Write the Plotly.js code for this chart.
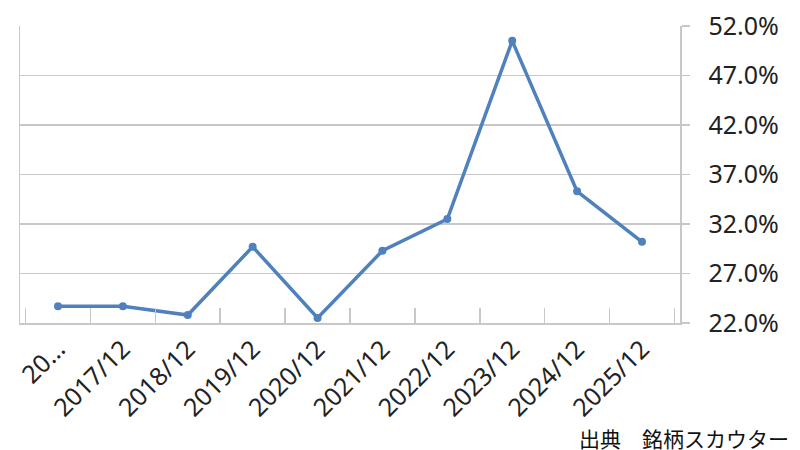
<!DOCTYPE html>
<html>
<head>
<meta charset="utf-8">
<script src="https://cdn.plot.ly/plotly-3.0.1.min.js"></script>
<style>
  html, body { margin: 0; padding: 0; background: #fff; }
  #chart { width: 800px; height: 450px; }
</style>
</head>
<body>
<div id="chart"></div>
<script>
// fiscal periods and the ratio (%)
var periods = ['2016/12', '2017/12', '2018/12', '2019/12', '2020/12',
               '2021/12', '2022/12', '2023/12', '2024/12', '2025/12'];
var periodLabels = ['20…', '2017/12', '2018/12', '2019/12', '2020/12',
                    '2021/12', '2022/12', '2023/12', '2024/12', '2025/12'];
var ratio = [23.7, 23.7, 22.8, 29.7, 22.5, 29.3, 32.5, 50.5, 35.3, 30.2];
var yTicks = [22, 27, 32, 37, 42, 47, 52];
var yTickLabels = ['22.0%', '27.0%', '32.0%', '37.0%', '42.0%', '47.0%', '52.0%'];

var trace = {
    x: periods,
    y: ratio,
    type: 'scatter',
    mode: 'lines+markers',
    line: { color: '#4f81bd', width: 3.5 },
    marker: { color: '#4f81bd', size: 8 },
    hoverinfo: 'x+y'
};

var layout = {
    width: 800,
    height: 450,
    margin: { l: 20, r: 120, t: 26, b: 127 },
    paper_bgcolor: '#fff',
    plot_bgcolor: '#fff',
    showlegend: false,
    font: { family: '"Noto Sans", "Liberation Sans", sans-serif', size: 25, color: '#222' },
    xaxis: {
        type: 'category',
        tickvals: periods,
        ticktext: periodLabels,
        tickangle: -45,
        tickson: 'boundaries',
        ticks: 'inside',
        ticklen: 15,
        tickwidth: 1.5,
        tickcolor: '#c8c8c8',
        showgrid: false,
        showline: true,
        linecolor: '#c8c8c8',
        linewidth: 1.5,
        zeroline: false
    },
    yaxis: {
        side: 'right',
        range: [22, 52],
        tickvals: yTicks,
        ticktext: yTickLabels,
        ticks: 'outside',
        ticklen: 8,
        tickwidth: 1.5,
        tickcolor: '#c8c8c8',
        ticklabelstandoff: 14,
        showgrid: true,
        gridcolor: '#c8c8c8',
        gridwidth: 1.5,
        showline: true,
        mirror: true,
        linecolor: '#c8c8c8',
        linewidth: 1.5,
        zeroline: false
    },
    annotations: [{
        text: '出典　銘柄スカウター',
        xref: 'paper', yref: 'paper',
        x: 1.168, y: -0.387,
        xanchor: 'right', yanchor: 'middle',
        showarrow: false,
        font: { family: '"Noto Sans CJK JP", sans-serif', size: 21, color: '#111' }
    }]
};

Plotly.newPlot('chart', [trace], layout, { displayModeBar: false, staticPlot: true });
</script>
</body>
</html>
